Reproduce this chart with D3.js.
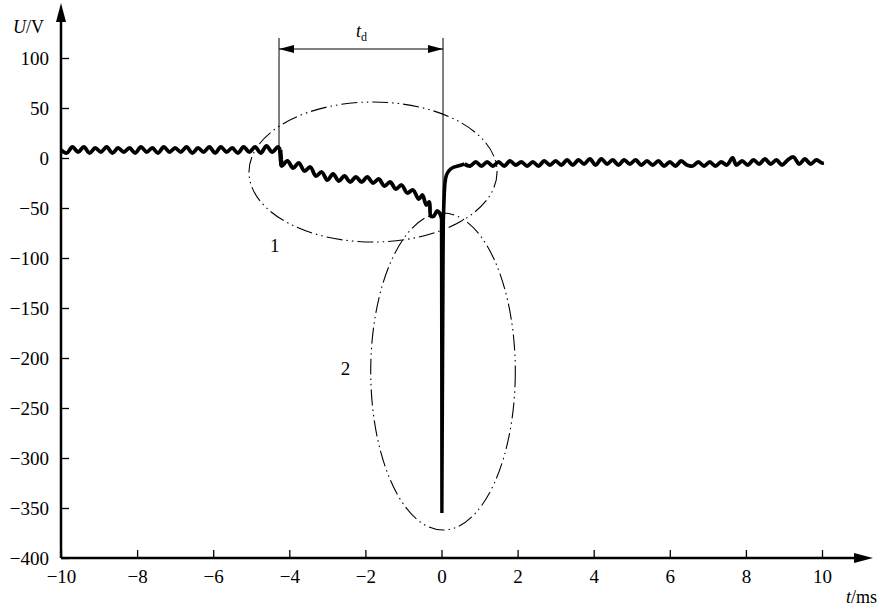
<!DOCTYPE html>
<html>
<head>
<meta charset="utf-8">
<script src="https://cdn.jsdelivr.net/npm/d3@7"></script>
<style>
  body { margin: 0; background: #fff; }
  svg { display: block; }
  text { font-family: "Liberation Serif", "Times New Roman", serif; fill: #000; }
</style>
</head>
<body>
<div id="chart"></div>
<script>
"use strict";

// tick values
var xTicks = [-10, -8, -6, -4, -2, 0, 2, 4, 6, 8, 10];
var yTicks = [-400, -350, -300, -250, -200, -150, -100, -50, 0, 50, 100];

// signal before the fault, [t ms, U V]
var preFault = [
  [-10, 8], [-9.85, 5], [-9.7, 11], [-9.55, 6], [-9.4, 11], [-9.25, 5], [-9.1, 10], [-8.95, 6],
  [-8.8, 11], [-8.65, 5], [-8.5, 10], [-8.35, 6], [-8.2, 10], [-8.05, 5], [-7.9, 11], [-7.75, 6],
  [-7.6, 10], [-7.45, 5], [-7.3, 11], [-7.15, 6], [-7.0, 10], [-6.85, 6], [-6.7, 11], [-6.55, 5],
  [-6.4, 10], [-6.25, 6], [-6.1, 11], [-5.95, 5], [-5.8, 11], [-5.65, 6], [-5.5, 10], [-5.35, 5],
  [-5.2, 11], [-5.05, 6], [-4.9, 11], [-4.75, 5], [-4.6, 12], [-4.45, 6], [-4.3, 11], [-4.24, 8]
];

// sagging voltage during t_d
var sag = [
  [-4.22, -2], [-4.2, -8], [-4.05, -3], [-3.9, -10], [-3.75, -5], [-3.6, -13], [-3.45, -9],
  [-3.3, -18], [-3.15, -14], [-3.0, -22], [-2.85, -16], [-2.7, -23], [-2.55, -18], [-2.4, -24],
  [-2.25, -19], [-2.1, -24], [-1.95, -19], [-1.8, -25], [-1.65, -21], [-1.5, -28], [-1.35, -24],
  [-1.2, -31], [-1.05, -27], [-0.9, -35], [-0.75, -32], [-0.6, -41], [-0.5, -37], [-0.4, -47],
  [-0.32, -44], [-0.28, -58], [-0.2, -58], [-0.12, -53], [-0.05, -55], [0.0, -60]
];

// spike and recovery
var spike = [
  [0.0, -60], [0.01, -355], [0.05, -60], [0.08, -25], [0.12, -17], [0.2, -12], [0.3, -9],
  [0.45, -8], [0.6, -6]
];

// signal after the fault
var postFault = [
  [0.6, -6], [0.75, -8], [0.9, -4], [1.05, -8], [1.2, -4], [1.35, -8], [1.5, -4], [1.65, -8],
  [1.8, -3], [1.95, -7], [2.1, -4], [2.25, -8], [2.4, -4], [2.55, -8], [2.7, -3], [2.85, -7],
  [3.0, -3], [3.15, -7], [3.3, -2], [3.45, -7], [3.6, -2], [3.75, -6], [3.9, -1], [4.05, -7],
  [4.2, -1], [4.35, -6], [4.5, -2], [4.65, -7], [4.8, -2], [4.95, -6], [5.1, -2], [5.25, -7],
  [5.4, -3], [5.55, -7], [5.7, -3], [5.85, -8], [6.0, -4], [6.15, -8], [6.3, -3], [6.45, -7],
  [6.6, -8], [6.75, -4], [6.9, -8], [7.05, -4], [7.2, -8], [7.35, -4], [7.5, -7], [7.65, 0],
  [7.75, -7], [7.9, -3], [8.05, -7], [8.2, -2], [8.35, -6], [8.5, -1], [8.65, -6], [8.8, -2],
  [8.95, -7], [9.1, -2], [9.25, 1], [9.4, -6], [9.55, -1], [9.7, -6], [9.85, -2], [10.0, -5],
  [10.05, -5]
];

// t_d marker: start, end (ms), arrow level (V)
var tdStart = -4.27, tdEnd = 0.04, tdLevel = 109;

// circled regions: [cx ms, cy V, rx ms, ry V]
var region1 = [-1.8, -14, 3.26, 70];
var region2 = [0.04, -213.5, 1.9, 158.5];

var width = 880, height = 607;

var x = d3.scaleLinear().domain([-10, 10]).range([61, 822]);
var y = d3.scaleLinear().domain([-400, 100]).range([558, 58]);

var svg = d3.select("#chart").append("svg")
  .attr("width", width)
  .attr("height", height);

//Axes
var yAxis = svg.append("g")
  .attr("transform", "translate(" + x(-10) + ",0)")
  .call(d3.axisLeft(y).tickValues(yTicks).tickSize(-8).tickPadding(12));

var xAxis = svg.append("g")
  .attr("transform", "translate(0," + y(-400) + ")")
  .call(d3.axisBottom(x).tickValues(xTicks).tickSize(-8).tickPadding(12));

[xAxis, yAxis].forEach(function(g) {
  g.attr("font-family", null).attr("font-size", null);
  g.select(".domain").remove();
  g.selectAll(".tick line").attr("stroke", "#000").attr("stroke-width", 1.3);
  g.selectAll(".tick text").style("font-size", "19px");
});
yAxis.selectAll(".tick text").attr("dy", "0.35em");

// axis lines with arrowheads
svg.append("line")
  .attr("x1", x(-10)).attr("y1", y(-400))
  .attr("x2", x(-10)).attr("y2", 20)
  .attr("stroke", "#000").attr("stroke-width", 2.5);
svg.append("path")
  .attr("d", "M" + (x(-10) - 5) + ",22 L" + x(-10) + ",3 L" + (x(-10) + 5) + ",22 Z")
  .attr("fill", "#000");

svg.append("line")
  .attr("x1", x(-10)).attr("y1", y(-400))
  .attr("x2", 856).attr("y2", y(-400))
  .attr("stroke", "#000").attr("stroke-width", 2.5);
svg.append("path")
  .attr("d", "M854," + (y(-400) - 5) + " L873," + y(-400) + " L854," + (y(-400) + 5) + " Z")
  .attr("fill", "#000");

// axis titles
var uTitle = svg.append("text").attr("x", 13).attr("y", 33).style("font-size", "18px");
uTitle.append("tspan").attr("font-style", "italic").text("U");
uTitle.append("tspan").text("/V");

var tTitle = svg.append("text").attr("x", 846).attr("y", 603).style("font-size", "18px");
tTitle.append("tspan").attr("font-style", "italic").text("t");
tTitle.append("tspan").text("/ms");

//Circled regions
var dash = "16,4,1.5,4,1.5,4";
[region1, region2].forEach(function(r) {
  svg.append("ellipse")
    .attr("cx", x(r[0]))
    .attr("cy", y(r[1]))
    .attr("rx", x(r[0] + r[2]) - x(r[0]))
    .attr("ry", y(r[1] - r[3]) - y(r[1]))
    .attr("fill", "none")
    .attr("stroke", "#000")
    .attr("stroke-width", 1.1)
    .attr("stroke-dasharray", dash);
});

svg.append("text").attr("x", x(-4.38)).attr("y", y(-87)).attr("dy", "0.35em")
  .attr("text-anchor", "middle").style("font-size", "19px").text("1");
svg.append("text").attr("x", x(-2.52)).attr("y", y(-210)).attr("dy", "0.35em")
  .attr("text-anchor", "middle").style("font-size", "19px").text("2");

//t_d marker
svg.append("line")
  .attr("x1", x(tdStart)).attr("y1", 38).attr("x2", x(tdStart)).attr("y2", y(5))
  .attr("stroke", "#000").attr("stroke-width", 1);
svg.append("line")
  .attr("x1", x(tdEnd)).attr("y1", 38).attr("x2", x(tdEnd)).attr("y2", y(-70))
  .attr("stroke", "#000").attr("stroke-width", 1);
svg.append("line")
  .attr("x1", x(tdStart)).attr("y1", y(tdLevel)).attr("x2", x(tdEnd)).attr("y2", y(tdLevel))
  .attr("stroke", "#000").attr("stroke-width", 1);
var ay = y(tdLevel);
svg.append("path")
  .attr("d", "M" + x(tdStart) + "," + ay + " L" + (x(tdStart) + 15) + "," + (ay - 4) +
    " L" + (x(tdStart) + 15) + "," + (ay + 4) + " Z")
  .attr("fill", "#000");
svg.append("path")
  .attr("d", "M" + x(tdEnd) + "," + ay + " L" + (x(tdEnd) - 15) + "," + (ay - 4) +
    " L" + (x(tdEnd) - 15) + "," + (ay + 4) + " Z")
  .attr("fill", "#000");

var tdLabel = svg.append("text")
  .attr("x", x((tdStart + tdEnd) / 2) - 5).attr("y", 37).style("font-size", "18px");
tdLabel.append("tspan").attr("font-style", "italic").text("t");
tdLabel.append("tspan").style("font-size", "12px").attr("dy", 4).text("d");

//Signal
var line = d3.line()
  .x(function(d) { return x(d[0]); })
  .y(function(d) { return y(d[1]); });

var wavy = d3.line()
  .x(function(d) { return x(d[0]); })
  .y(function(d) { return y(d[1]); })
  .curve(d3.curveCatmullRom.alpha(0.5));

[preFault, sag, postFault].forEach(function(seg) {
  svg.append("path")
    .attr("d", wavy(seg))
    .attr("fill", "none")
    .attr("stroke", "#000")
    .attr("stroke-width", 3.8)
    .attr("stroke-linejoin", "round");
});

// the drop at -4.2 ms
svg.append("path")
  .attr("d", line([preFault[preFault.length - 1], sag[0], sag[1]]))
  .attr("fill", "none").attr("stroke", "#000").attr("stroke-width", 4.5);

// the spike and recovery
svg.append("path")
  .attr("d", line.curve(d3.curveMonotoneY)(spike.slice(0, 3)))
  .attr("fill", "none").attr("stroke", "#000").attr("stroke-width", 3.4);
svg.append("path")
  .attr("d", line.curve(d3.curveBasis)(spike.slice(2)))
  .attr("fill", "none").attr("stroke", "#000").attr("stroke-width", 3.6);
</script>
</body>
</html>
